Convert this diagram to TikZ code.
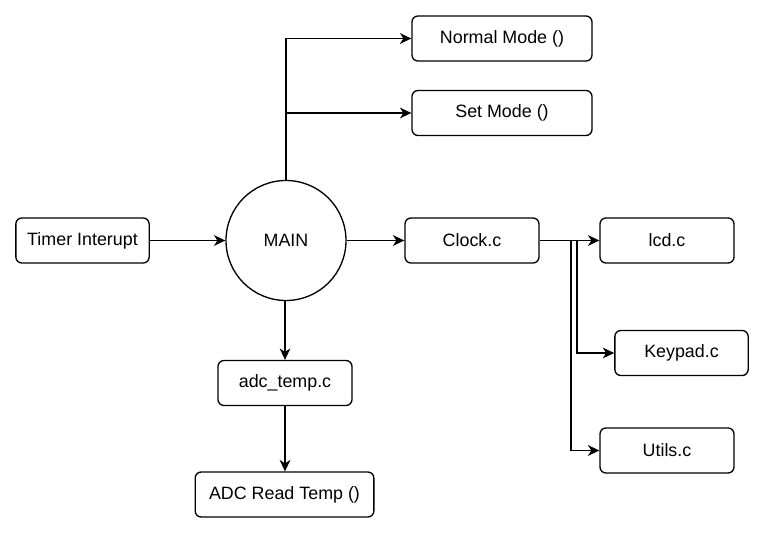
\documentclass[tikz,border=0pt]{standalone}
\usepackage{fontspec}
\setmainfont{Liberation Sans}
\usetikzlibrary{arrows.meta}
\begin{document}
\begin{tikzpicture}[x=0.75pt,y=-0.75pt,
  box/.style={draw, fill=white, rounded corners=4.5pt, line width=1pt, inner sep=0pt,
    minimum height=33.75pt, font=\fontsize{13.4}{15}\selectfont},
  conn/.style={line width=1pt, -{Stealth[length=8.5pt,width=8pt,inset=2.5pt]}}]
\useasboundingbox (0,0) rectangle (766,534);
\node[box, minimum width=135pt] (normal) at (502,38.5) {Normal Mode ()};
\node[box, minimum width=135pt] (set) at (502,113) {Set Mode ()};
\node[box, minimum width=100pt] (timer) at (82.5,240.5) {Timer Interupt};
\node[draw, circle, line width=1pt, minimum size=90pt, inner sep=0pt, font=\fontsize{13.4}{15}\selectfont] (main) at (286,240.5) {MAIN};
\node[box, minimum width=100.5pt] (clock) at (472,240.5) {Clock.c};
\node[box, minimum width=100.5pt] (lcd) at (667,240.5) {lcd.c};
\node[box, minimum width=100pt] (keypad) at (681.5,353) {Keypad.c};
\node[box, minimum width=100.5pt] (utils) at (667,450.5) {Utils.c};
\node[box, minimum width=100.5pt] (adc) at (285,383) {adc\_temp.c};
\node[box, minimum width=134pt] (read) at (284.5,494.5) {ADC Read Temp ()};
\coordinate (kb) at (577,240.5);
\coordinate (ub) at (571,240.5);
\draw[conn] (main.north) |- (normal.west);
\draw[conn] (main.north |- set.west) -- (set.west);
\draw[conn] (timer.east) -- (main.west);
\draw[conn] (main.east) -- (clock.west);
\draw[conn] (clock.east) -- (lcd.west);
\draw[conn] (kb) |- (keypad.west);
\draw[conn] (ub) |- (utils.west);
\draw[conn] (main.south -| adc.north) -- (adc.north);
\draw[conn] (adc.south) -- (read.north -| adc.south);
\end{tikzpicture}
\end{document}
